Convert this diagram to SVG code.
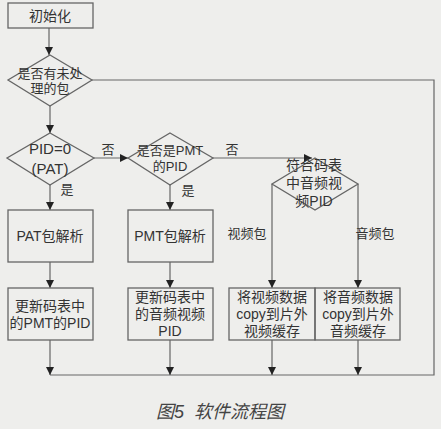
<svg xmlns="http://www.w3.org/2000/svg" width="441" height="429" viewBox="0 0 441 429">
<defs>
<marker id="ah" markerWidth="8" markerHeight="8" refX="8" refY="4" orient="auto" markerUnits="userSpaceOnUse">
<path d="M0,0 L8,4 L0,8 Z" fill="#222"/>
</marker>
<style>
.n{fill:none;stroke:#666;stroke-width:1.3}
.c{fill:none;stroke:#666;stroke-width:1.2}
.a{marker-end:url(#ah)}
text{font-family:"Liberation Sans","Noto Sans CJK SC",sans-serif;fill:#333;text-anchor:middle}
.t{font-size:14px}
.s{font-size:13px}
.cap{font-size:18px;font-style:italic;fill:#444}
</style>
</defs>
<rect width="441" height="429" fill="#eeeeec"/>
<g id="connectors">
<path class="c a" d="M49,28 V55"/>
<path class="c a" d="M50,106 V133"/>
<path class="c" d="M92,80 H434 V375 H50"/>
<path class="c a" d="M94,158 H128"/>
<path class="c a" d="M213,158 H312"/>
<path class="c a" d="M50,185 V210"/>
<path class="c a" d="M170,185 V210"/>
<path class="c a" d="M50,262 V288"/>
<path class="c a" d="M170,262 V288"/>
<path class="c a" d="M272,184 V288"/>
<path class="c a" d="M358,184 V288"/>
<path class="c a" d="M50,340 V375"/>
<path class="c a" d="M170,340 V375"/>
<path class="c a" d="M272,340 V375"/>
<path class="c a" d="M358,340 V375"/>
<text class="s" x="108" y="154">否</text>
<text class="s" x="232" y="154">否</text>
<text class="s" x="67" y="194">是</text>
<text class="s" x="188" y="195">是</text>
<text class="s" x="247" y="238">视频包</text>
<text class="s" x="375" y="238">音频包</text>
</g>
<g id="init"><rect class="n" x="8" y="3" width="85" height="25"/><text class="t" x="50" y="21">初始化</text></g>
<g id="d1"><path class="n" d="M50,55 L92,80 L50,106 L8,80 Z"/><text class="s" x="50" y="78">是否有未处</text><text class="s" x="50" y="93">理的包</text></g>
<g id="d2"><path class="n" d="M50,133 L94,158 L50,185 L7,158 Z"/><text class="t" x="50" y="154" style="font-size:15px">PID=0</text><text class="t" x="50" y="174" style="font-size:15px">(PAT)</text></g>
<g id="d3"><path class="n" d="M170,133 L213,158 L170,185 L128,158 Z"/><text class="s" x="170" y="155">是否是PMT</text><text class="s" x="170" y="171">的PID</text></g>
<g id="d4"><path class="n" d="M315,158 L358,184 L315,210 L272,184 Z"/><text class="t" x="314" y="170">符合码表</text><text class="t" x="314" y="188">中音频视</text><text class="t" x="314" y="206">频PID</text></g>
<g id="pat"><rect class="n" x="8" y="210" width="85" height="52"/><text class="t" x="50" y="241">PAT包解析</text></g>
<g id="pmt"><rect class="n" x="128" y="210" width="85" height="52"/><text class="t" x="170" y="241">PMT包解析</text></g>
<g id="upd1"><rect class="n" x="8" y="288" width="85" height="52"/><text class="t" x="50" y="311">更新码表中</text><text class="t" x="50" y="328">的PMT的PID</text></g>
<g id="upd2"><rect class="n" x="128" y="288" width="85" height="52"/><text class="t" x="170" y="302">更新码表中</text><text class="t" x="170" y="319">的音频视频</text><text class="t" x="170" y="336">PID</text></g>
<g id="copyv"><rect class="n" x="229" y="288" width="86" height="52"/><text class="t" x="272" y="302">将视频数据</text><text class="t" x="272" y="319">copy到片外</text><text class="t" x="272" y="336">视频缓存</text></g>
<g id="copya"><rect class="n" x="315" y="288" width="85" height="52"/><text class="t" x="358" y="302">将音频数据</text><text class="t" x="358" y="319">copy到片外</text><text class="t" x="358" y="336">音频缓存</text></g>
<text class="cap" x="220" y="418" xml:space="preserve">图5  软件流程图</text>
</svg>
